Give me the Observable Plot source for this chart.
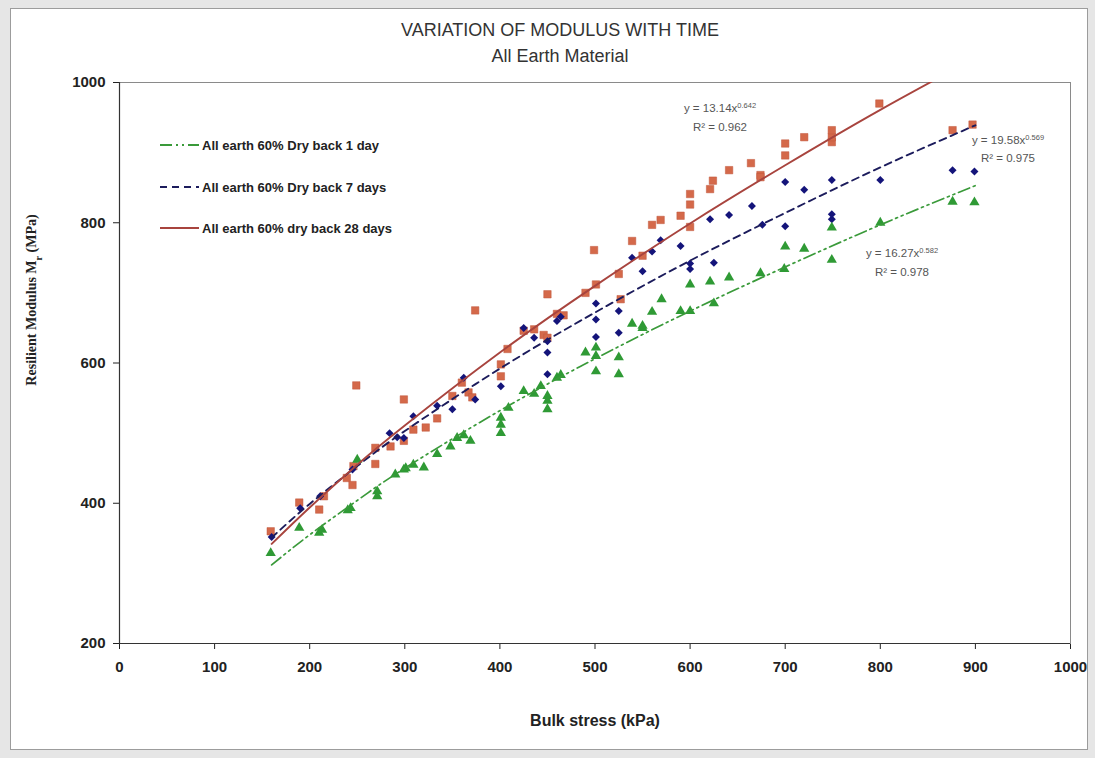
<!DOCTYPE html>
<html>
<head>
<meta charset="utf-8">
<script src="https://cdn.jsdelivr.net/npm/d3@7"></script>
<script src="https://cdn.jsdelivr.net/npm/@observablehq/plot@0.6"></script>
<style>
  html, body { margin: 0; padding: 0; }
  body { width: 1095px; height: 758px; background: #e6e6e6; position: relative; overflow: hidden; font-family: "Liberation Sans", Arial, sans-serif; }
  #frame { position: absolute; left: 10px; top: 8px; width: 1076px; height: 740px; background: #fff; border: 1px solid #9c9c9c; }
  #chart { position: absolute; left: 0; top: 0; }
  .title { position: absolute; left: 0; width: 1120px; text-align: center; color: #333; font-size: 18px; font-family: "Liberation Sans", Arial, sans-serif; }
</style>
</head>
<body>
<div id="frame"></div>
<div class="title" style="top:20px;">VARIATION OF MODULUS WITH TIME</div>
<div class="title" style="top:46px;">All Earth Material</div>
<div id="chart"></div>
<script>
// ---- data ----
const xTicks = [0, 100, 200, 300, 400, 500, 600, 700, 800, 900, 1000];
const yTicks = [200, 400, 600, 800, 1000];

const seriesNames = ["All earth 60% Dry back 1 day", "All earth 60% Dry back 7 days", "All earth 60% dry back 28 days"];

// All earth 60% dry back 1 day (green triangles): [bulk stress kPa, Mr MPa]
const day1Points = [
  [159,329],[189,365],[210,358],[213,362],[240,390],[243,393],[250,462],[271,410],[271,417],
  [290,441],[299,448],[301,450],[309,455],[320,451],[334,470],[348,481],[355,493],[362,497],
  [369,489],[401,500],[401,512],[401,522],[409,536],[425,560],[436,556],[443,567],[450,534],
  [450,546],[450,553],[460,579],[464,583],[490,615],[501,588],[501,610],[501,622],[525,584],
  [525,608],[539,656],[550,650],[550,653],[560,673],[570,691],[590,674],[600,674],[600,712],
  [621,716],[625,685],[641,722],[674,728],[699,734],[700,766],[720,763],[749,747],[749,793],
  [800,800],[876,830],[899,829]
];
// All earth 60% dry back 7 days (blue diamonds)
const day7Points = [
  [160,352],[190,393],[211,410],[245,448],[284,500],[292,494],[299,493],[309,524],[334,539],
  [350,534],[362,579],[374,548],[401,567],[425,650],[436,636],[450,584],[450,615],[450,631],
  [460,660],[464,666],[501,637],[501,662],[501,685],[525,643],[525,674],[539,750],[550,731],
  [560,759],[569,775],[590,767],[600,734],[600,742],[621,805],[625,743],[641,811],[665,824],
  [676,797],[700,795],[700,858],[720,847],[749,805],[749,812],[749,861],[800,861],[876,875],
  [899,873]
];
// All earth 60% dry back 28 days (red squares)
const day28Points = [
  [159,360],[189,401],[210,391],[215,410],[239,436],[245,426],[246,453],[249,568],[269,456],
  [269,479],[285,481],[299,489],[299,548],[309,505],[322,508],[334,521],[350,553],[360,572],
  [367,558],[371,551],[374,675],[401,581],[401,598],[408,620],[425,646],[436,648],[446,640],
  [450,636],[450,698],[460,670],[467,668],[490,700],[499,761],[501,712],[525,727],[527,691],
  [539,774],[550,753],[560,797],[569,804],[590,810],[600,794],[600,826],[600,841],[621,848],
  [624,860],[641,875],[664,885],[674,868],[674,865],[700,896],[700,913],[720,922],[749,915],
  [749,922],[749,932],[799,970],[876,932],[897,940]
];

// trend lines
const trendX    = [160, 200, 250, 300, 400, 500, 600, 700, 800, 900];
const trend1Y   = [312, 355, 404, 450, 532, 606, 674, 737, 797, 853];
const trend7Y   = [351, 399, 453, 503, 592, 672, 746, 814, 879, 939];
const trend28Y  = [342, 394, 455, 511, 615, 710, 799, 882, 961, 1035];

const equations = [
  {eq: "y = 16.27x", exp: "0.582", r2: "R² = 0.978"},
  {eq: "y = 19.58x", exp: "0.569", r2: "R² = 0.975"},
  {eq: "y = 13.14x", exp: "0.642", r2: "R² = 0.962"}
];

// ---- styles ----
const green = "#2f9a35", blue = "#14147a", red = "#d4694a";
const greenLine = "#3a9a3a", blueLine = "#1c1c5c", redLine = "#a8443e";

const toRows = pts => pts.map(([x, y]) => ({x, y}));
const trendRows = ys => trendX.map((x, i) => ({x, y: ys[i]}));

const chart = Plot.plot({
  width: 1095,
  height: 758,
  marginLeft: 119,
  marginRight: 25,
  marginTop: 82,
  marginBottom: 115,
  style: {background: "transparent", fontFamily: "'Liberation Sans', Arial, sans-serif", fontSize: "15px", fontWeight: "bold", color: "#222"},
  x: {domain: [0, 1000], ticks: xTicks, tickFormat: d => String(d), tickSize: 6, tickPadding: 12, label: null},
  y: {domain: [200, 1000], ticks: yTicks, tickFormat: d => String(d), tickSize: 6, tickPadding: 8, label: null},
  marks: [
    Plot.frame({stroke: "#8a8a8a"}),
    Plot.dot(toRows(day28Points), {x: "x", y: "y", symbol: "square", r: 4.2, fill: red, stroke: "#c0573c", strokeWidth: 0.5}),
    Plot.dot(toRows(day7Points), {x: "x", y: "y", symbol: "diamond2", r: 3.6, fill: blue}),
    Plot.dot(toRows(day1Points), {x: "x", y: "y", symbol: "triangle", r: 3.8, fill: green}),
    Plot.line(trendRows(trend1Y), {x: "x", y: "y", stroke: greenLine, strokeWidth: 1.7, strokeDasharray: "12,4,2,4,2,4", curve: "natural", clip: true}),
    Plot.line(trendRows(trend7Y), {x: "x", y: "y", stroke: blueLine, strokeWidth: 1.9, strokeDasharray: "7,5", curve: "natural", clip: true}),
    Plot.line(trendRows(trend28Y), {x: "x", y: "y", stroke: redLine, strokeWidth: 1.9, curve: "natural", clip: true}),
    Plot.ruleX([0], {stroke: "#333", strokeWidth: 1.2}),
    Plot.ruleY([200], {stroke: "#333", strokeWidth: 1.2})
  ]
});
document.getElementById("chart").appendChild(chart);

// ---- overlays: axis titles, legend, equations ----
const svg = d3.select(chart);

svg.append("text")
  .attr("transform", "translate(36,300) rotate(-90)")
  .attr("text-anchor", "middle")
  .style("font-family", "'Liberation Serif', 'Times New Roman', serif")
  .style("font-size", "14px").style("font-weight", "bold").attr("fill", "#222")
  .call(t => {
    t.append("tspan").text("Resilient Modulus M");
    t.append("tspan").attr("baseline-shift", "sub").style("font-size", "10px").text("r");
    t.append("tspan").text(" (MPa)");
  });

svg.append("text")
  .attr("x", 595).attr("y", 726)
  .attr("text-anchor", "middle")
  .style("font-size", "16px").style("font-weight", "bold").attr("fill", "#222")
  .text("Bulk stress (kPa)");

const legendY = [145, 187, 228];
const legendStyles = [
  {stroke: greenLine, dash: "12,4,2,4,2,4"},
  {stroke: blueLine, dash: "7,5"},
  {stroke: redLine, dash: null}
];
const lg = svg.append("g").attr("text-anchor", "start");
seriesNames.forEach((name, i) => {
  const s = legendStyles[i];
  const ln = lg.append("line").attr("x1", 160).attr("x2", 199).attr("y1", legendY[i]).attr("y2", legendY[i])
    .attr("stroke", s.stroke).attr("stroke-width", 1.9);
  if (s.dash) ln.attr("stroke-dasharray", s.dash);
  lg.append("text").attr("x", 202).attr("y", legendY[i]).attr("dy", "0.35em").attr("text-anchor", "start")
    .style("font-size", "13px").style("font-weight", "bold").attr("fill", "#222").text(name);
});

const eqPos = [
  {x: 902, y1: 257, y2: 276},
  {x: 1008, y1: 144, y2: 162},
  {x: 720, y1: 112, y2: 131}
];
equations.forEach((e, i) => {
  const p = eqPos[i];
  const t = svg.append("text").attr("x", p.x).attr("y", p.y1).attr("text-anchor", "middle")
    .style("font-size", "11.5px").style("font-weight", "normal").attr("fill", "#555");
  t.append("tspan").text(e.eq);
  t.append("tspan").attr("baseline-shift", "super").style("font-size", "7.5px").text(e.exp);
  svg.append("text").attr("x", p.x).attr("y", p.y2).attr("text-anchor", "middle")
    .style("font-size", "11.5px").style("font-weight", "normal").attr("fill", "#555").text(e.r2);
});
</script>
</body>
</html>
